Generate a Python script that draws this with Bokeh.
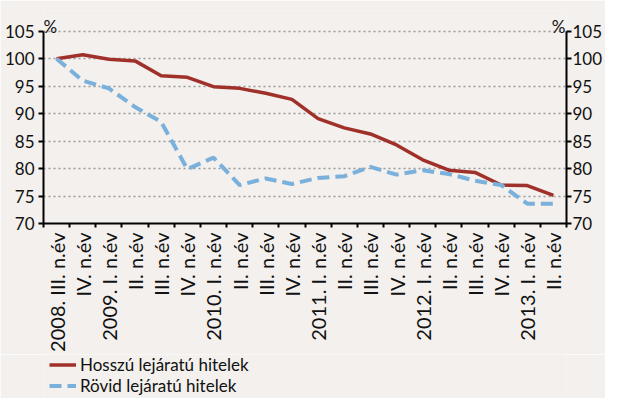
import math
from bokeh.plotting import figure
from bokeh.layouts import column
from bokeh.models import Range1d, LinearAxis, FixedTicker, Legend, LegendItem, Label
from bokeh.embed import file_html
from bokeh.resources import INLINE

quarters = ["2008. III. n.év", "IV. n.év", "2009. I. n.év", "II. n.év", "III. n.év", "IV. n.év",
            "2010. I. n.év", "II. n.év", "III. n.év", "IV. n.év",
            "2011. I. n.év", "II. n.év", "III. n.év", "IV. n.év",
            "2012. I. n.év", "II. n.év", "III. n.év", "IV. n.év",
            "2013. I. n.év", "II. n.év"]
hosszu = [100, 100.7, 99.9, 99.6, 96.9, 96.6, 94.9, 94.6, 93.7, 92.6,
          89.1, 87.4, 86.3, 84.3, 81.6, 79.7, 79.3, 77.0, 76.9, 75.1]
rovid = [100, 96.0, 94.6, 91.2, 88.5, 79.9, 82.0, 77.0, 78.2, 77.2,
         78.3, 78.6, 80.3, 78.9, 79.7, 79.0, 77.8, 77.0, 73.6, 73.6]
y_ticks = [70, 75, 80, 85, 90, 95, 100, 105]
series_names = ["Hosszú lejáratú hitelek", "Rövid lejáratú hitelek"]
unit = "%"

BG = "#f3f0ed"
RED = "#a0302a"
BLUE = "#7ab0dc"
FONT = "Lato"
TXT = "#111111"
RED_W, BLUE_W, BLUE_DASH = 3.5, 4, "12 6"

xs = list(range(len(quarters)))
y_lo, y_hi = y_ticks[0], y_ticks[-1]

p = figure(width=605, height=354, x_range=Range1d(-0.5, len(quarters) - 0.5),
           y_range=Range1d(y_lo, 108.77), output_backend="svg", toolbar_location=None,
           min_border_left=43, min_border_right=38, min_border_top=10, min_border_bottom=128,
           background_fill_color=BG, border_fill_color=BG, outline_line_color=None)

yt = FixedTicker(ticks=y_ticks)

def style_y(ax, standoff):
    ax.ticker = yt
    ax.bounds = (y_lo, y_hi)
    ax.axis_line_width = 2
    ax.axis_line_color = "black"
    ax.major_tick_line_width = 2
    ax.major_tick_line_color = "black"
    ax.major_tick_out = 5
    ax.major_tick_in = 0
    ax.minor_tick_line_color = None
    ax.major_label_text_font = FONT
    ax.major_label_text_font_size = "17px"
    ax.major_label_text_color = TXT
    ax.major_label_standoff = standoff

style_y(p.yaxis[0], 4)
right = LinearAxis()
style_y(right, 1)
p.add_layout(right, "right")

xa = p.xaxis[0]
xa.ticker = FixedTicker(ticks=xs, minor_ticks=[i - 0.5 for i in range(len(quarters) + 1)])
xa.major_label_overrides = {i: q for i, q in enumerate(quarters)}
xa.major_label_orientation = math.pi / 2
xa.major_tick_line_color = None
xa.major_tick_out = 0
xa.major_tick_in = 0
xa.minor_tick_out = 4
xa.minor_tick_in = 0
xa.minor_tick_line_width = 2
xa.minor_tick_line_color = "black"
xa.axis_line_width = 2
xa.axis_line_color = "black"
xa.major_label_text_font = FONT
xa.major_label_text_font_size = "20px"
xa.major_label_text_color = TXT
xa.major_label_standoff = 5

p.xgrid.visible = False
p.ygrid.ticker = yt
p.ygrid.grid_line_color = "#9a9a9a"
p.ygrid.grid_line_dash = "2 3"
p.ygrid.grid_line_width = 1.3

p.line(xs, hosszu, line_color=RED, line_width=RED_W)
p.line(xs, rovid, line_color=BLUE, line_width=BLUE_W, line_dash=BLUE_DASH)

p.add_layout(Label(x=-0.5, y=y_hi, text=unit, x_offset=0, y_offset=5,
                   text_align="left", text_baseline="alphabetic",
                   text_font=FONT, text_font_size="17px", text_color=TXT))
p.add_layout(Label(x=len(quarters) - 0.5, y=y_hi, text=unit, x_offset=-1, y_offset=5,
                   text_align="right", text_baseline="alphabetic",
                   text_font=FONT, text_font_size="17px", text_color=TXT))

# legend strip below the chart (its series lie outside its visible range; only the key shows)
lg = figure(width=605, height=44, x_range=Range1d(0, 1), y_range=Range1d(0, 1),
            output_backend="svg", toolbar_location=None, x_axis_type=None, y_axis_type=None,
            min_border=0, background_fill_color=BG, border_fill_color=BG, outline_line_color=None)
lg.xgrid.visible = False
lg.ygrid.visible = False
k1 = lg.line(xs, hosszu, line_color=RED, line_width=RED_W)
k2 = lg.line(xs, rovid, line_color=BLUE, line_width=BLUE_W, line_dash=BLUE_DASH)
legend = Legend(items=[LegendItem(label=series_names[0], renderers=[k1]),
                       LegendItem(label=series_names[1], renderers=[k2])],
                location=(6, 2), orientation="vertical",
                background_fill_alpha=0, border_line_color=None,
                padding=0, margin=0, spacing=0, glyph_width=27, glyph_height=19,
                label_height=19, label_standoff=4,
                label_text_font=FONT, label_text_font_size="17px",
                label_text_color=TXT)
lg.add_layout(legend, "center")

layout = column(p, lg, spacing=0)
open("out.html", "w").write(file_html(layout, INLINE))
